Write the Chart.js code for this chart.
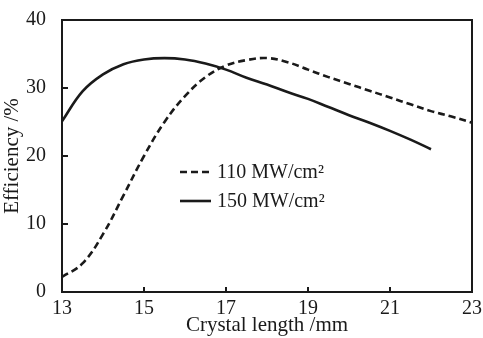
<!DOCTYPE html>
<html>
<head>
<meta charset="utf-8">
<script src="https://cdn.jsdelivr.net/npm/chart.js@4"></script>
<style>
  html, body { margin: 0; padding: 0; background: #fff; }
  #wrap { width: 483px; height: 338px; }
</style>
</head>
<body>
<div id="wrap"><canvas id="chart" width="483" height="338"></canvas></div>
<script>
const lenA = [13, 13.5, 14, 14.5, 15, 15.5, 16, 16.5, 17, 17.5, 18, 18.5, 19, 19.5, 20, 20.5, 21, 21.5, 22, 22.5, 23];
const eff110 = [2.2, 4.2, 8.5, 14.2, 20.0, 25.0, 28.8, 31.6, 33.3, 34.1, 34.4, 33.8, 32.7, 31.6, 30.6, 29.6, 28.6, 27.6, 26.6, 25.8, 24.9];
const lenB = [13, 13.5, 14, 14.5, 15, 15.5, 16, 16.5, 17, 17.5, 18, 18.5, 19, 19.5, 20, 20.5, 21, 21.5, 22];
const eff150 = [25.1, 29.5, 32.0, 33.5, 34.2, 34.4, 34.2, 33.6, 32.7, 31.5, 30.5, 29.4, 28.4, 27.2, 26.0, 24.9, 23.7, 22.4, 21.0];
const xTicks = [13, 15, 17, 19, 21, 23];
const yTicks = [0, 10, 20, 30, 40];
const seriesNames = ['110 MW/cm\u00B2', '150 MW/cm\u00B2'];

const FONT = '"Liberation Serif", "Times New Roman", serif';
const INK = '#1a1a1a';

const toPts = (xs, ys) => xs.map((x, i) => ({ x, y: ys[i] }));

// frame, inward ticks and the in-plot legend
const framePlugin = {
  id: 'frame',
  afterDatasetsDraw(chart) {
    const { ctx, chartArea: a, scales: { x, y } } = chart;
    ctx.save();
    ctx.strokeStyle = INK;
    ctx.lineWidth = 2;
    ctx.strokeRect(a.left, a.top, a.right - a.left, a.bottom - a.top);
    ctx.beginPath();
    xTicks.slice(1, -1).forEach(v => {
      const px = x.getPixelForValue(v);
      ctx.moveTo(px, a.bottom); ctx.lineTo(px, a.bottom - 5);
    });
    yTicks.slice(1, -1).forEach(v => {
      const py = y.getPixelForValue(v);
      ctx.moveTo(a.left, py); ctx.lineTo(a.left + 6, py);
    });
    ctx.stroke();

    // legend
    const lx = 180, ly = 172, gap = 29;
    chart.data.datasets.forEach((ds, i) => {
      const yy = ly + i * gap;
      ctx.strokeStyle = ds.borderColor;
      ctx.lineWidth = ds.borderWidth;
      ctx.setLineDash(ds.borderDash || []);
      ctx.beginPath();
      ctx.moveTo(lx, yy); ctx.lineTo(lx + 31, yy);
      ctx.stroke();
      ctx.setLineDash([]);
      ctx.fillStyle = INK;
      ctx.font = '20px ' + FONT;
      ctx.textBaseline = 'middle';
      ctx.fillText(ds.label, lx + 37, yy + 1);
    });
    ctx.restore();
  }
};

new Chart(document.getElementById('chart'), {
  type: 'line',
  data: {
    datasets: [
      {
        label: seriesNames[0],
        data: toPts(lenA, eff110),
        borderColor: INK,
        borderWidth: 2.6,
        borderDash: [7, 4],
        pointRadius: 0,
        tension: 0.4,
        fill: false
      },
      {
        label: seriesNames[1],
        data: toPts(lenB, eff150),
        borderColor: INK,
        borderWidth: 2.6,
        pointRadius: 0,
        tension: 0.4,
        fill: false
      }
    ]
  },
  options: {
    responsive: false,
    animation: false,
    layout: { padding: { top: 14, right: 11, left: 0, bottom: 0 } },
    plugins: { legend: { display: false }, tooltip: { enabled: false } },
    scales: {
      x: {
        type: 'linear',
        min: 13, max: 23,
        afterBuildTicks: s => { s.ticks = xTicks.map(v => ({ value: v })); },
        afterFit: s => { s.height = 46; },
        grid: { display: false },
        border: { display: false },
        ticks: { color: INK, font: { family: FONT, size: 20 }, padding: -3, maxRotation: 0 },
        title: { display: true, text: 'Crystal length /mm', color: INK, font: { family: FONT, size: 21 }, padding: { top: -5, bottom: 0 } }
      },
      y: {
        min: 0, max: 40,
        afterBuildTicks: s => { s.ticks = yTicks.map(v => ({ value: v })); },
        afterFit: s => { s.width = 62; },
        grid: { display: false },
        border: { display: false },
        ticks: { color: INK, font: { family: FONT, size: 20 }, padding: 8 },
        title: { display: true, text: 'Efficiency /%', color: INK, font: { family: FONT, size: 21 }, padding: { top: 0, bottom: 4 } }
      }
    }
  },
  plugins: [framePlugin]
});
</script>
</body>
</html>
